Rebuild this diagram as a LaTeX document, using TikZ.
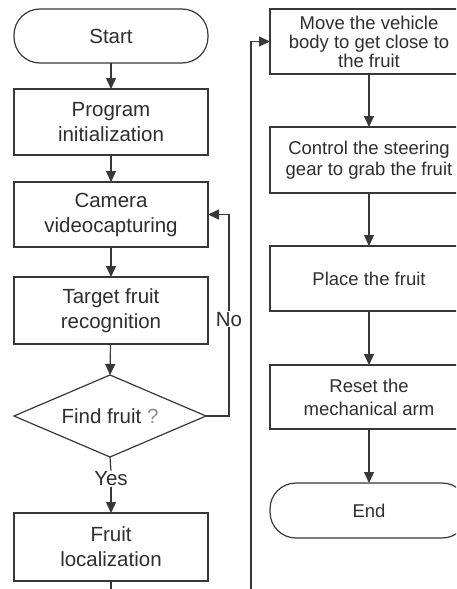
\documentclass[tikz,border=0pt]{standalone}
\usepackage{fontspec}
\setmainfont{Liberation Sans}
\usetikzlibrary{shapes.geometric,arrows.meta}
\begin{document}
\begin{tikzpicture}[x=1pt,y=-1pt,
  line/.style={draw=black!78,line width=1.2pt},
  arr/.style={line,-{Triangle[length=11pt,width=10pt]}},
  box/.style={line,rectangle,inner sep=0pt,outer sep=0pt,align=center,text=black!82},
  lbox/.style={box,minimum width=194pt,font=\fontsize{20.5}{25}\selectfont},
  rbox/.style={box,minimum width=198pt,font=\fontsize{18.5}{21}\selectfont},
  term/.style={rounded corners=26pt},
  decide/.style={line,diamond,aspect=2.34,minimum width=192pt,minimum height=82pt,inner sep=0pt,outer sep=0pt,text=black!82,font=\fontsize{20.5}{25}\selectfont},
  lbl/.style={inner sep=1pt,fill=white,text=black!82,font=\fontsize{20.5}{25}\selectfont}
]
\useasboundingbox (0,0) rectangle (456,589);
\fill[white] (0,0) rectangle (456,589);
\clip (0,0) rectangle (456,589);

% left column
\node[lbox,term,minimum height=54pt] (start) at (111,36) {Start};
\node[lbox,minimum height=66pt] (init) at (111,122) {Program\\initialization};
\node[lbox,minimum height=65pt] (cam) at (111,214.5) {Camera\\videocapturing};
\node[lbox,minimum height=67pt] (target) at (111,310.5) {Target fruit\\recognition};
\node[decide] (find) at (110,416) {Find fruit \textcolor{black!45}{?}};
\node[lbl] (yes) at (111,479) {Yes};
\node[lbox,minimum height=68pt] (loc) at (111,547) {Fruit\\localization};
\coordinate (b1) at (111,595);
\coordinate (b2) at (251,595);

% right column
\node[rbox,minimum height=65pt,font=\fontsize{18.5}{19}\selectfont] (move) at (369,41.5) {Move the vehicle\\body to get close to\\the fruit};
\node[rbox,minimum height=66pt] (ctrl) at (369,160) {Control the steering\\gear to grab the fruit};
\node[rbox,minimum height=65pt] (place) at (369,278.5) {Place the fruit};
\node[rbox,minimum height=64pt,font=\fontsize{18.5}{23}\selectfont] (reset) at (369,397) {Reset the\\mechanical arm};
\node[rbox,term,minimum height=55pt] (end) at (369,510.5) {End};

% connectors
\draw[arr] (start) -- (init);
\draw[arr] (init) -- (cam);
\draw[arr] (cam) -- (target);
\draw[arr] (target) -- (find.north);
\draw[line] (find.south) -- (yes.north);
\draw[arr] (yes.south) -- (loc.north);
\draw[arr] (find.east) -- ++(23,0) |- node[lbl,pos=0.24] {No} (cam.east);
\draw[line] (loc.south) -- (b1);
\draw[arr] (b2) |- (move.west);
\draw[arr] (move) -- (ctrl);
\draw[arr] (ctrl) -- (place);
\draw[arr] (place) -- (reset);
\draw[arr] (reset) -- (end);
\end{tikzpicture}
\end{document}
